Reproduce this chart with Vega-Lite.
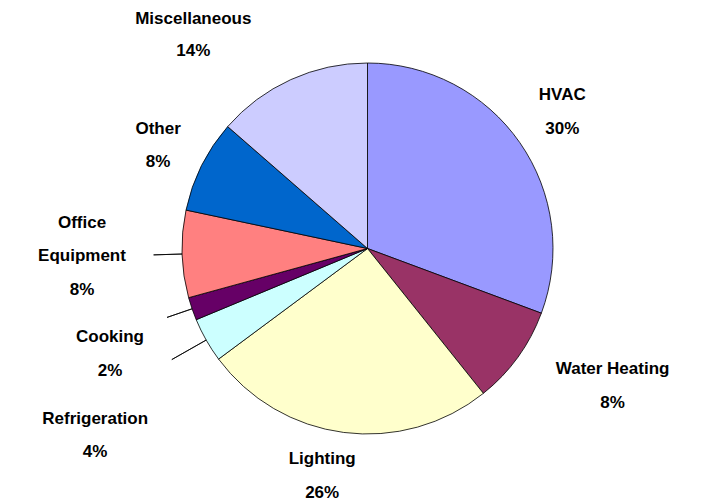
{
  "$schema": "https://vega.github.io/schema/vega-lite/v6.json",
  "width": 667,
  "height": 497,
  "autosize": {"type": "none"},
  "padding": {"left": 34, "top": 0, "right": 0, "bottom": 6},
  "background": "white",
  "data": {
    "values": [
      {"category": "HVAC", "value": 30.7, "label": "HVAC\n30%", "order": 1},
      {"category": "Water Heating", "value": 8.6, "label": "Water Heating\n8%", "order": 2},
      {"category": "Lighting", "value": 25.6, "label": "Lighting\n26%", "order": 3},
      {"category": "Refrigeration", "value": 3.9, "label": "Refrigeration\n4%", "order": 4},
      {"category": "Cooking", "value": 2.0, "label": "Cooking\n2%", "order": 5},
      {"category": "Office Equipment", "value": 7.6, "label": "Office\nEquipment\n8%", "order": 6},
      {"category": "Other", "value": 8.1, "label": "Other\n8%", "order": 7},
      {"category": "Miscellaneous", "value": 13.6, "label": "Miscellaneous\n14%", "order": 8}
    ]
  },
  "encoding": {
    "theta": {"field": "value", "type": "quantitative", "stack": true},
    "order": {"field": "order", "type": "quantitative"},
    "detail": {"field": "category", "type": "nominal"}
  },
  "layer": [
    {
      "mark": {"type": "arc", "radius": 185.5, "stroke": "#000000", "strokeWidth": 0.8},
      "encoding": {
        "color": {
          "field": "category",
          "type": "nominal",
          "scale": {
            "domain": ["HVAC", "Water Heating", "Lighting", "Refrigeration", "Cooking", "Office Equipment", "Other", "Miscellaneous"],
            "range": ["#9999FF", "#993366", "#FFFFCC", "#CCFFFF", "#660066", "#FF8080", "#0066CC", "#CCCCFF"]
          },
          "legend": null
        }
      }
    },
    {
      "mark": {"type": "arc", "radius": 214, "radius2": 185.5, "padAngle": 0.6, "fillOpacity": 0, "stroke": "#000000", "strokeWidth": 0.8},
      "encoding": {
        "strokeOpacity": {"condition": {"test": "datum.category === 'Office Equipment'", "value": 1}, "value": 0}
      }
    },
    {
      "mark": {"type": "arc", "radius": 212, "radius2": 185.5, "padAngle": 0.3, "fillOpacity": 0, "stroke": "#000000", "strokeWidth": 0.8},
      "encoding": {
        "strokeOpacity": {"condition": {"test": "datum.category === 'Cooking'", "value": 1}, "value": 0}
      }
    },
    {
      "mark": {"type": "arc", "radius": 225, "radius2": 185.5, "padAngle": 0.3, "fillOpacity": 0, "stroke": "#000000", "strokeWidth": 0.8},
      "encoding": {
        "strokeOpacity": {"condition": {"test": "datum.category === 'Refrigeration'", "value": 1}, "value": 0}
      }
    },
    {
      "mark": {"type": "text", "radius": 238, "thetaOffset": -0.005, "dy": -17, "font": "Liberation Sans", "fontWeight": "bold", "fontSize": 17, "lineBreak": "\n", "lineHeight": 34, "align": "center", "baseline": "middle", "color": "#000000"},
      "encoding": {"text": {"condition": {"test": "datum.category === 'HVAC'", "field": "label"}, "value": ""}}
    },
    {
      "mark": {"type": "text", "radius": 281, "thetaOffset": -0.115, "dy": -17, "font": "Liberation Sans", "fontWeight": "bold", "fontSize": 17, "lineBreak": "\n", "lineHeight": 34, "align": "center", "baseline": "middle", "color": "#000000"},
      "encoding": {"text": {"condition": {"test": "datum.category === 'Water Heating'", "field": "label"}, "value": ""}}
    },
    {
      "mark": {"type": "text", "radius": 232, "thetaOffset": 0.068, "dy": -17, "font": "Liberation Sans", "fontWeight": "bold", "fontSize": 17, "lineBreak": "\n", "lineHeight": 34, "align": "center", "baseline": "middle", "color": "#000000"},
      "encoding": {"text": {"condition": {"test": "datum.category === 'Lighting'", "field": "label"}, "value": ""}}
    },
    {
      "mark": {"type": "text", "radius": 330.5, "thetaOffset": -0.086, "dy": -16.5, "font": "Liberation Sans", "fontWeight": "bold", "fontSize": 17, "lineBreak": "\n", "lineHeight": 33, "align": "center", "baseline": "middle", "color": "#000000"},
      "encoding": {"text": {"condition": {"test": "datum.category === 'Refrigeration'", "field": "label"}, "value": ""}}
    },
    {
      "mark": {"type": "text", "radius": 278.3, "thetaOffset": -0.058, "dy": -17, "font": "Liberation Sans", "fontWeight": "bold", "fontSize": 17, "lineBreak": "\n", "lineHeight": 34, "align": "center", "baseline": "middle", "color": "#000000"},
      "encoding": {"text": {"condition": {"test": "datum.category === 'Cooking'", "field": "label"}, "value": ""}}
    },
    {
      "mark": {"type": "text", "radius": 285.6, "thetaOffset": 0.003, "dy": -33.5, "font": "Liberation Sans", "fontWeight": "bold", "fontSize": 17, "lineBreak": "\n", "lineHeight": 33.5, "align": "center", "baseline": "middle", "color": "#000000"},
      "encoding": {"text": {"condition": {"test": "datum.category === 'Office Equipment'", "field": "label"}, "value": ""}}
    },
    {
      "mark": {"type": "text", "radius": 233.4, "thetaOffset": -0.005, "dy": -16.5, "font": "Liberation Sans", "fontWeight": "bold", "fontSize": 17, "lineBreak": "\n", "lineHeight": 33, "align": "center", "baseline": "middle", "color": "#000000"},
      "encoding": {"text": {"condition": {"test": "datum.category === 'Other'", "field": "label"}, "value": ""}}
    },
    {
      "mark": {"type": "text", "radius": 275.4, "thetaOffset": -0.258, "dy": -16, "font": "Liberation Sans", "fontWeight": "bold", "fontSize": 17, "lineBreak": "\n", "lineHeight": 32, "align": "center", "baseline": "middle", "color": "#000000"},
      "encoding": {"text": {"condition": {"test": "datum.category === 'Miscellaneous'", "field": "label"}, "value": ""}}
    }
  ],
  "config": {"view": {"stroke": null}}
}
